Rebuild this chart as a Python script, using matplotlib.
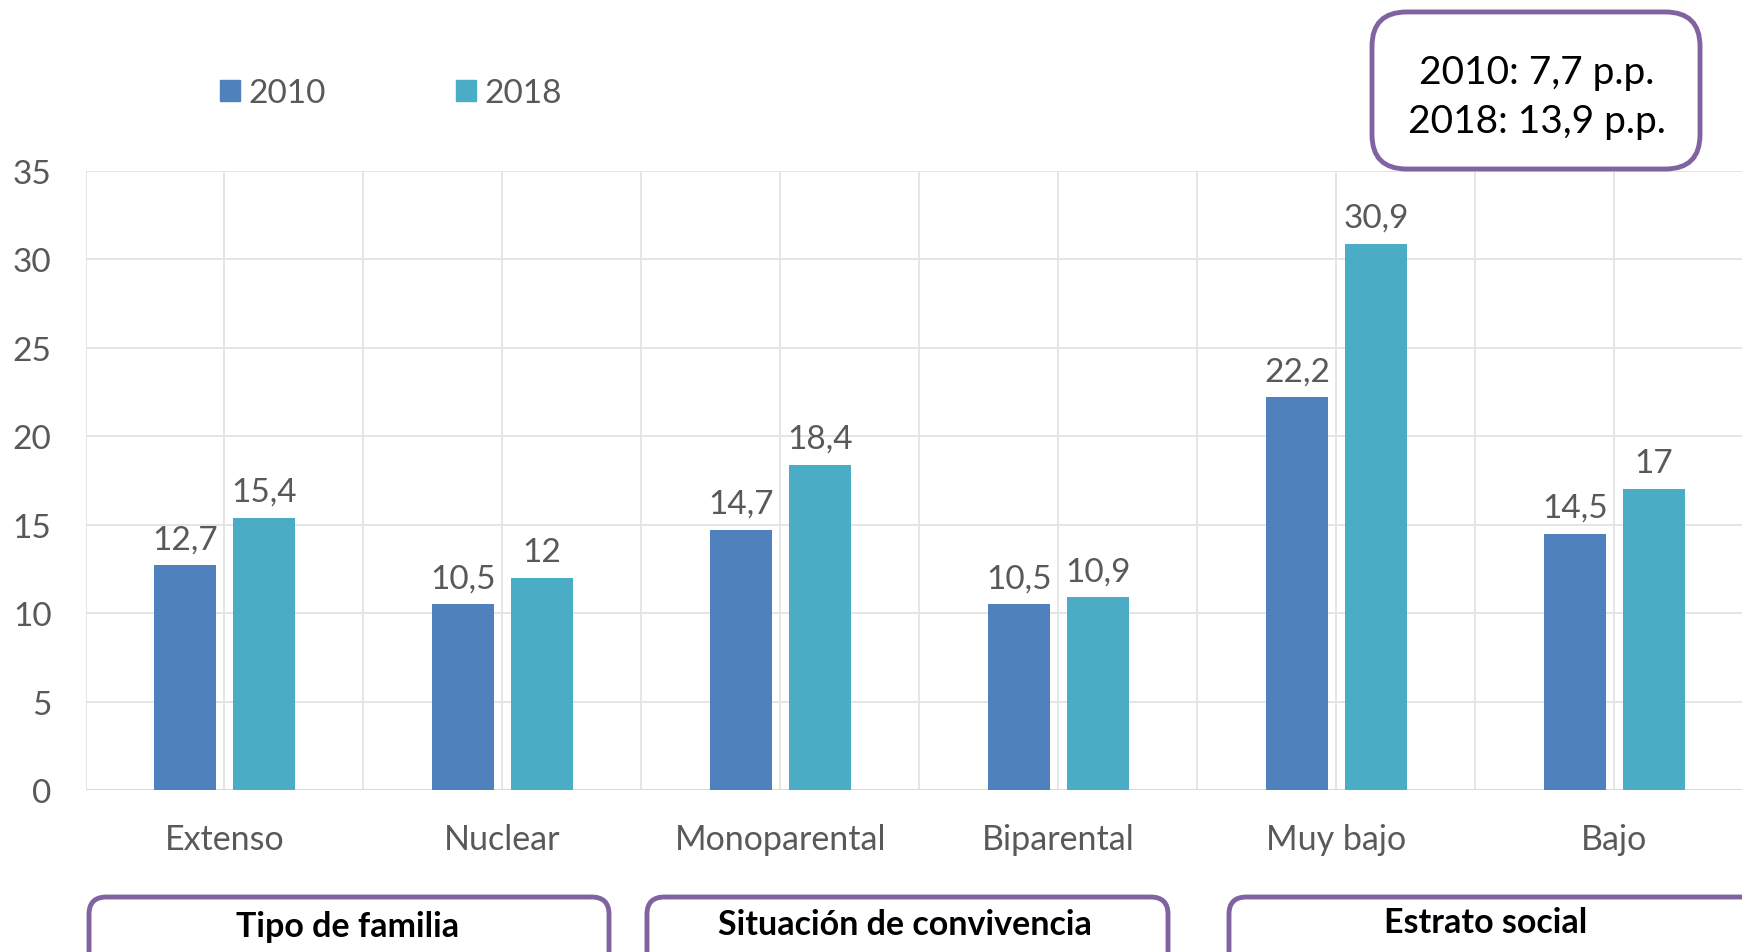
import matplotlib
matplotlib.use("Agg")
import matplotlib.pyplot as plt
from matplotlib.patches import FancyBboxPatch, Patch
import numpy as np

categories = ["Extenso", "Nuclear", "Monoparental", "Biparental", "Muy bajo", "Bajo"]
years = ["2010", "2018"]
values_2010 = [12.7, 10.5, 14.7, 10.5, 22.2, 14.5]
values_2018 = [15.4, 12.0, 18.4, 10.9, 30.9, 17.0]
groups = ["Tipo de familia", "Situación de convivencia", "Estrato social"]
note_lines = ["2010: 7,7 p.p.", "2018: 13,9 p.p."]

c2010 = "#4F81BD"
c2018 = "#4BACC6"
txt = "#595959"
purple = "#8064A2"

plt.rcParams["font.family"] = ["Lato", "DejaVu Sans"]

fig = plt.figure(figsize=(17.42, 9.53), dpi=100)
left = 85.5 / 1742
ax = fig.add_axes([left, 0.170, 1 - left, 0.8195 - 0.170])

x = np.arange(len(categories))
w = 0.223
off = 0.142
b1 = ax.bar(x - off, values_2010, w, color=c2010, zorder=3, label=years[0])
b2 = ax.bar(x + off, values_2018, w, color=c2018, zorder=3, label=years[1])

fmt = lambda v: f"{v:g}".replace(".", ",")
ax.bar_label(b1, labels=[fmt(v) for v in values_2010], padding=8, fontsize=24, color=txt)
ax.bar_label(b2, labels=[fmt(v) for v in values_2018], padding=8, fontsize=24, color=txt)

ax.set_yticks(range(0, 36, 5))
ax.set_xticks(x)
ax.set_xticklabels(categories)
ax.set_xticks(np.arange(-0.5, 6, 1.0), minor=True)
# limites despues de los ticks (set_xticks amplia la vista)
ax.set_ylim(0, 35)
ax.set_xlim(-0.5, 5.459)
ax.tick_params(axis="x", which="both", length=0, pad=24, labelsize=24.5, colors=txt)
ax.tick_params(axis="y", length=0, pad=24.5, labelsize=24, colors=txt)
ax.grid(True, which="both", color="#E3E3E3", linewidth=1.3, zorder=0)
for s in ax.spines.values():
    s.set_visible(False)
ax.axhline(0, color="#D9D9D9", linewidth=1.5, zorder=2)

handles = [Patch(color=c2010), Patch(color=c2018)]
fig.legend(handles, years, loc="center left", bbox_to_anchor=(0.109, 0.901), ncol=2,
           frameon=False, fontsize=24, labelcolor=txt, handlelength=0.6, handleheight=0.6,
           handletextpad=0.25, columnspacing=3.9)

# recuadro superior
fig.patches.append(FancyBboxPatch((0.7876, 0.8216), 0.9759 - 0.7876, 0.9864 - 0.8216,
                                  boxstyle="round,pad=0,rounding_size=0.02",
                                  transform=fig.transFigure, facecolor="white",
                                  edgecolor=purple, linewidth=3.5, mutation_aspect=1.8))
fig.text(0.882, 0.923, note_lines[0], ha="center", va="center", fontsize=28, color="black")
fig.text(0.882, 0.8725, note_lines[1], ha="center", va="center", fontsize=28, color="black")

# recuadros inferiores
boxes = [(0.0511, 0.3496), (0.3714, 0.6705), (0.7055, 1.01)]
centers = [0.1997, 0.5197, 0.853]
tys = [0.027, 0.029, 0.031]
for (x0, x1), cx, g, ty in zip(boxes, centers, groups, tys):
    fig.patches.append(FancyBboxPatch((x0, -0.05), x1 - x0, 0.1077,
                                      boxstyle="round,pad=0,rounding_size=0.01",
                                      transform=fig.transFigure, facecolor="white",
                                      edgecolor=purple, linewidth=3.5, mutation_aspect=1.8))
    fig.text(cx, ty, g, ha="center", va="center", fontsize=24.5, fontweight="bold", color="black")

fig.savefig("out.png", dpi=100)
